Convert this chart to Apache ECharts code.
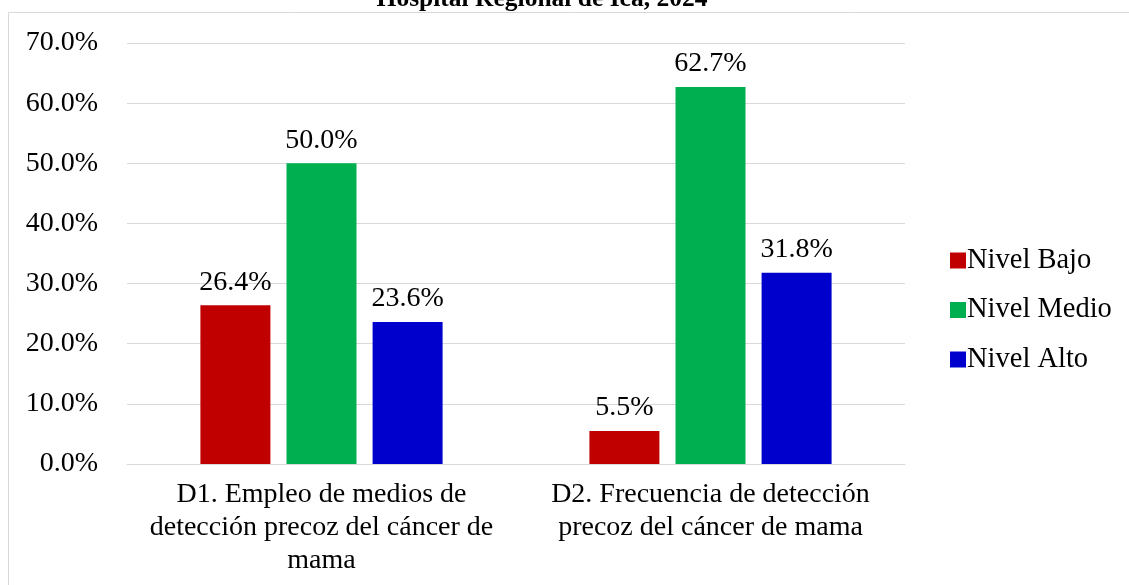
<!DOCTYPE html>
<html>
<head>
<meta charset="utf-8">
<script src="https://cdn.jsdelivr.net/npm/echarts@6/dist/echarts.min.js"></script>
<style>
html,body{margin:0;padding:0;background:#fff;}
#main{width:1129px;height:585px;}
</style>
</head>
<body>
<div id="main"></div>
<script>
const titleText = 'Hospital Regional de Ica, 2024';
const categories = [
  'D1. Empleo de medios de\ndetección precoz del cáncer de\nmama',
  'D2. Frecuencia de detección\nprecoz del cáncer de mama'
];
const seriesNames = ['Nivel Bajo', 'Nivel Medio', 'Nivel Alto'];
const nivelBajo = [26.4, 5.5];
const nivelMedio = [50.0, 62.7];
const nivelAlto = [23.6, 31.8];
const yTicks = [0, 10, 20, 30, 40, 50, 60, 70];

const colors = ['#c00000', '#00b050', '#0000cc'];
const font = 'Liberation Serif';

const chart = echarts.init(document.getElementById('main'));
const values = [nivelBajo, nivelMedio, nivelAlto];

chart.setOption({
  animation: false,
  title: {
    text: titleText,
    left: 537,
    textAlign: 'center',
    top: -19,
    textStyle: {fontFamily: font, fontWeight: 'bold', fontSize: 25.5, color: '#000'}
  },
  graphic: [{
    type: 'rect',
    shape: {x: 8.5, y: 12.5, width: 1300, height: 800},
    style: {fill: 'none', stroke: '#d9d9d9', lineWidth: 1},
    silent: true,
    z: -10
  }],
  legend: {
    orient: 'vertical',
    left: 945,
    top: 241,
    itemWidth: 16,
    itemHeight: 16,
    itemGap: 20.5,
    icon: 'rect',
    data: seriesNames,
    textStyle: {fontFamily: font, fontSize: 28.5, color: '#000', padding: [0, 0, 0, -4], lineHeight: 28}
  },
  grid: {left: 127, right: 224, top: 43, bottom: 121, containLabel: false},
  xAxis: {
    type: 'category',
    data: categories,
    axisLine: {show: true, lineStyle: {color: '#d9d9d9'}},
    axisTick: {show: false},
    axisLabel: {fontFamily: font, fontSize: 28, color: '#000', lineHeight: 33, margin: 14, interval: 0}
  },
  yAxis: {
    type: 'value',
    min: yTicks[0],
    max: yTicks[yTicks.length - 1],
    interval: 10,
    axisLine: {show: false},
    axisTick: {show: false},
    splitLine: {lineStyle: {color: '#d9d9d9', width: 1}},
    axisLabel: {fontFamily: font, fontSize: 28, color: '#000', margin: 29,
      formatter: v => v.toFixed(1) + '%'}
  },
  series: seriesNames.map((n, i) => ({
    name: n,
    type: 'bar',
    data: values[i],
    barWidth: 70,
    barGap: '23%',
    itemStyle: {color: colors[i]},
    label: {
      show: true,
      position: 'top',
      distance: 9,
      fontFamily: font,
      fontSize: 28,
      color: '#000',
      formatter: p => p.value.toFixed(1) + '%'
    }
  }))
});
</script>
</body>
</html>
